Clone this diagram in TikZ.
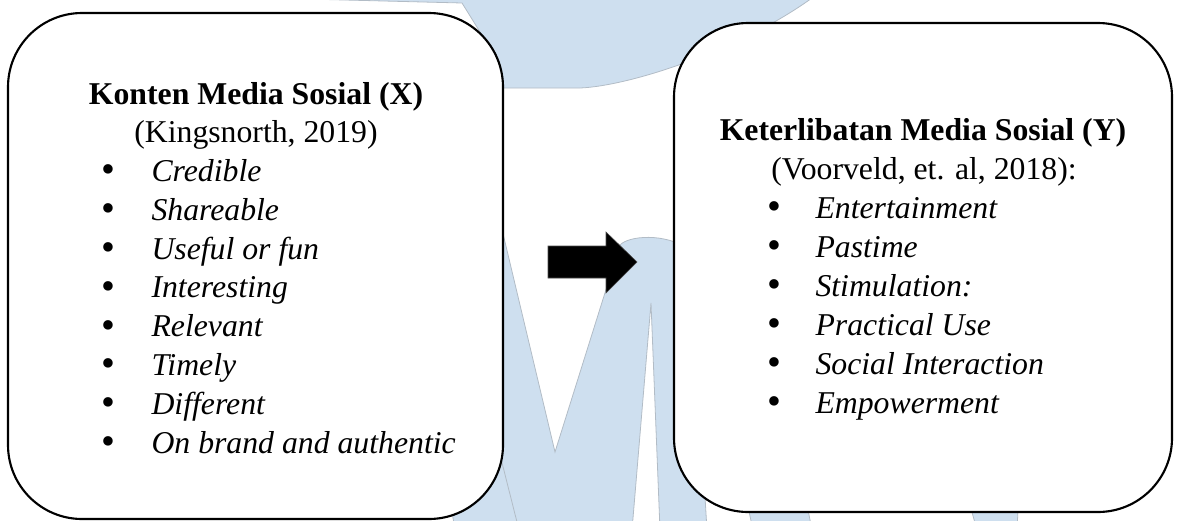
\documentclass[tikz,border=0pt]{standalone}
\usepackage{fontspec}
\setmainfont{Liberation Serif}
\definecolor{wm}{RGB}{206,223,239}
\definecolor{wmline}{RGB}{178,188,198}
\begin{document}
\begin{tikzpicture}[x=0.378pt,y=-0.378pt,
  box/.style={draw=black, line width=0.8pt, rounded corners=28pt, fill=white, inner sep=0pt},
  ttl/.style={font=\bfseries\fontsize{12}{14}\selectfont, anchor=base, inner sep=0pt},
  sub/.style={font=\fontsize{12}{14}\selectfont, anchor=base, inner sep=0pt},
  itm/.style={font=\itshape\fontsize{12}{14}\selectfont, anchor=base west, inner sep=0pt},
  bul/.style={font=\fontsize{15}{16}\selectfont, anchor=base, inner sep=0pt},
  wmfill/.style={fill=wm, draw=wmline, line width=0.3pt},
  blockarrow/.style={fill=black, draw=black!70, line width=0.2pt}]
\useasboundingbox (0,0) rectangle (1177,520);
% watermark
\begin{scope}
\clip (0,0) rectangle (1177,520);
\path[wmfill] (267,-2) -- (462,3) -- (485,40) -- (503,88) -- (580,88)
  .. controls (630,86) and (740,50) .. (812,-2) -- cycle;
\path[wmfill] (400,200) -- (495,200) -- (555,452) -- (620,245)
  .. controls (628,236) and (665,232) .. (690,250) -- (707,530) -- (660,530)
  -- (651,303) -- (632,530) -- (455,530) -- cycle;
\draw[wmline, line width=0.3pt] (495,435) -- (519,530);
\path[wmfill] (740,470) -- (800,470) -- (812,530) -- (753,530) -- cycle;
\path[wmfill] (960,470) -- (1020,470) -- (1017,530) -- (977,530) -- cycle;
\end{scope}
% boxes
\node[box, minimum width=495*0.378pt, minimum height=506*0.378pt] (lbox) at (255.5,266) {};
\node[box, minimum width=498*0.378pt, minimum height=489*0.378pt] (rbox) at (923,267.5) {};
% left text
\node[ttl] (lt) at (256,104) {Konten Media Sosial (X)};
\node[sub] (ls) at (256,142.6) {(Kingsnorth, 2019)};
\foreach \t [count=\i] in {Credible,Shareable,Useful or fun,Interesting,Relevant,Timely,Different,On brand and authentic}{
  \node[bul] (lb\i) at (108,{144+38.8*\i}) {•};
  \node[itm] (li\i) at (151,{142.6+38.8*\i}) {\t};
}
% right text
\node[ttl] (rt) at (923,140) {Keterlibatan Media Sosial (Y)};
\node[sub] (rs) at (924,179) {(Voorveld, et. al, 2018):};
\foreach \t [count=\i] in {Entertainment,Pastime,Stimulation:,Practical Use,Social Interaction,Empowerment}{
  \node[bul] (rb\i) at (774,{180.5+39*\i}) {•};
  \node[itm] (ri\i) at (815,{179+39*\i}) {\t};
}
% block arrow between the boxes
\coordinate (arrtail) at (548,262);
\coordinate (arrtip) at (637,262);
\path[blockarrow] ([yshift=16*0.378pt]arrtail) -- ++(58,0) -- ++(0,-14) -- (arrtip)
  -- ++(-31,31) -- ++(0,-15) -- ([yshift=-16*0.378pt]arrtail) -- cycle;
\end{tikzpicture}
\end{document}
